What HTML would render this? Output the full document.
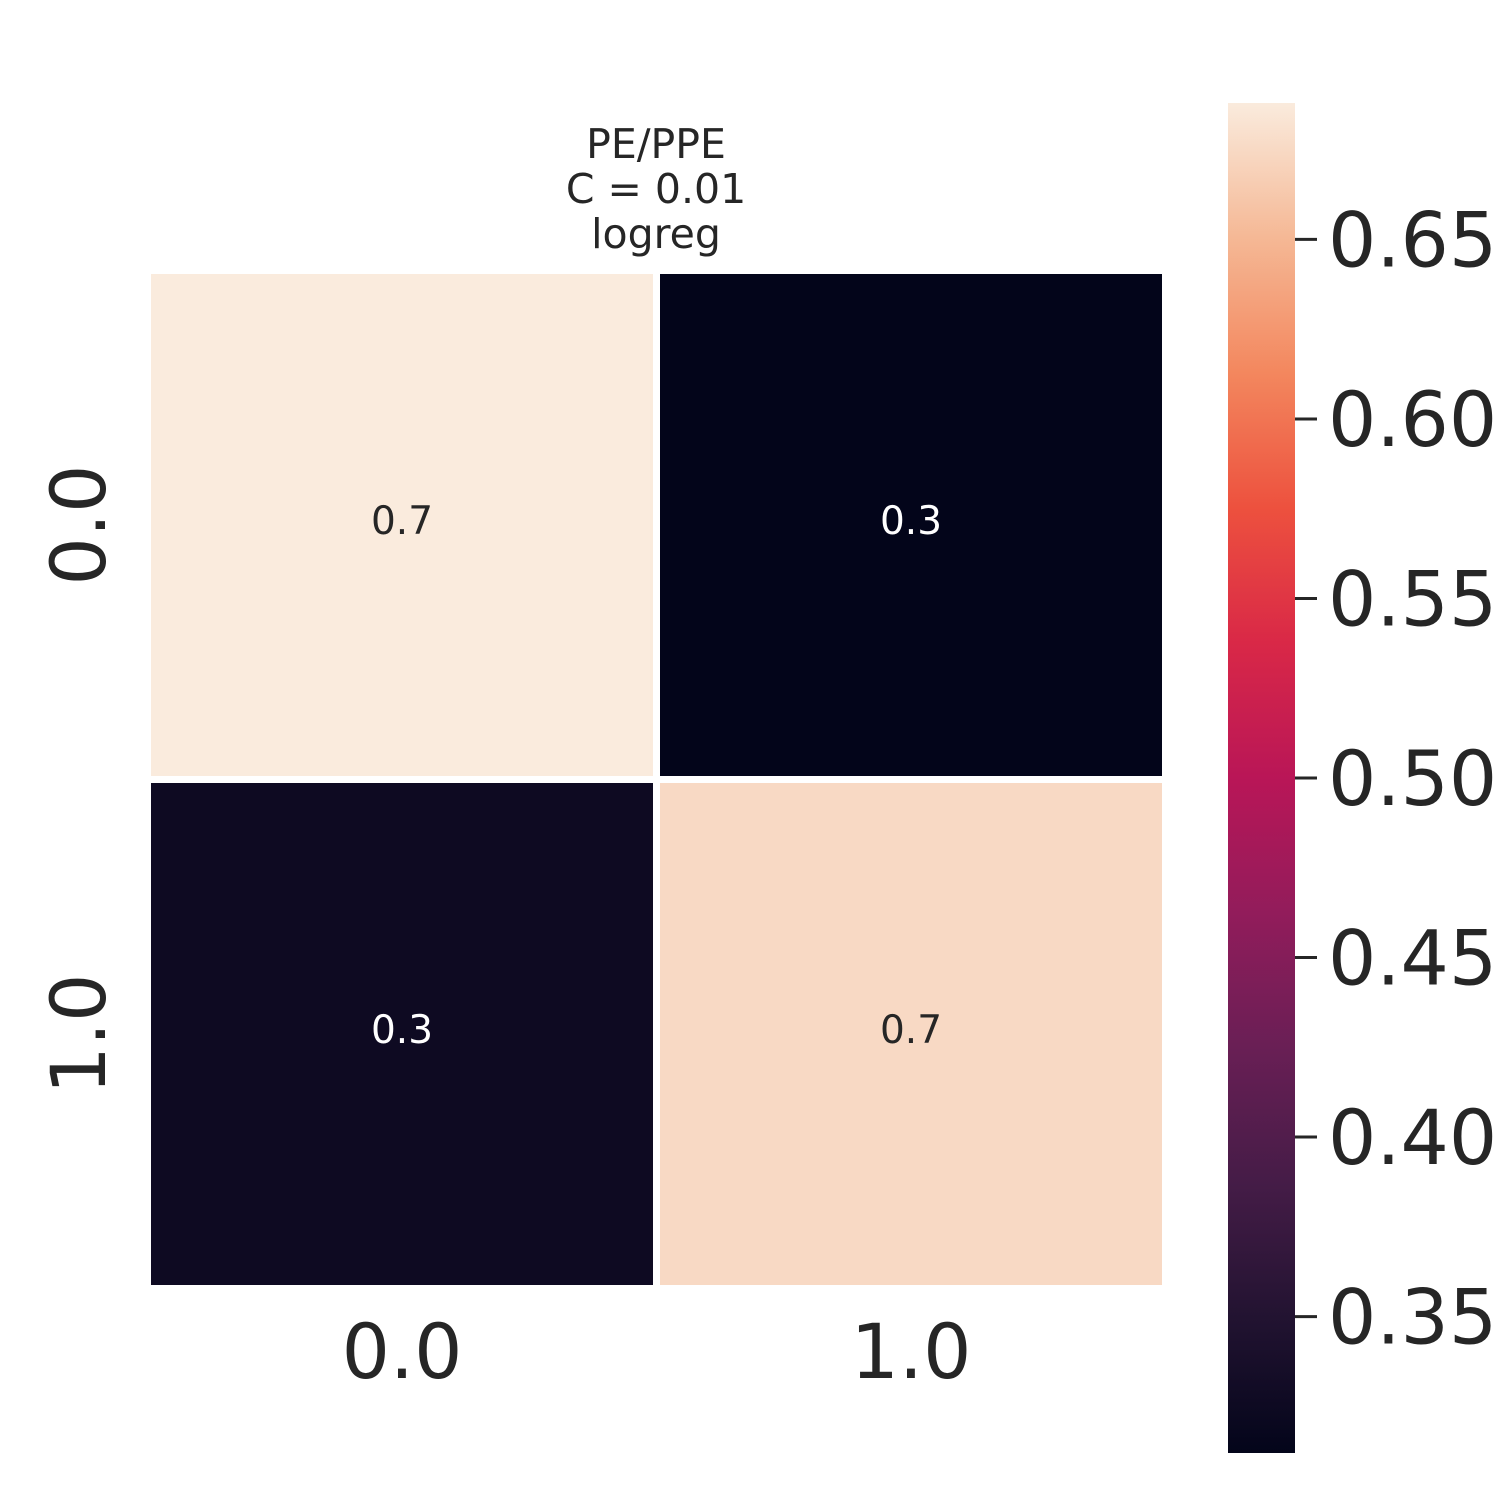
<!DOCTYPE html>
<html><head><meta charset="utf-8"><style>
html,body{margin:0;padding:0;background:#fff;}
svg{display:block;font-family:"DejaVu Sans","Liberation Sans",sans-serif;}
</style></head><body>
<svg id="chart" width="1500" height="1500" viewBox="0 0 1500 1500">
<defs><linearGradient id="rocket" x1="0" y1="1" x2="0" y2="0">
<stop offset="0" stop-color="#03051a"/><stop offset="0.1" stop-color="#221331"/><stop offset="0.2" stop-color="#451c47"/><stop offset="0.3" stop-color="#691f55"/><stop offset="0.4" stop-color="#921c5b"/><stop offset="0.5" stop-color="#b91657"/><stop offset="0.6" stop-color="#d92847"/><stop offset="0.7" stop-color="#ed513e"/><stop offset="0.8" stop-color="#f3875e"/><stop offset="0.9" stop-color="#f5b895"/><stop offset="1" stop-color="#faebdd"/>
</linearGradient></defs>
<g fill="#262626" font-size="41" text-anchor="middle">
<text x="656" y="158">PE/PPE</text><text x="656" y="203">C = 0.01</text><text x="656" y="248">logreg</text></g>
<g id="cells"></g><g id="xt"></g><g id="yt"></g>
<rect x="1228" y="103" width="67" height="1350" fill="url(#rocket)"/>
<g id="cb"></g>
</svg>
<script>
const xLabels=["0.0","1.0"];
const yLabels=["0.0","1.0"];
const row0=[0.688,0.312];
const row1=[0.325,0.675];
const cbTicks=[0.35,0.40,0.45,0.50,0.55,0.60,0.65];
const values=[row0,row1];
const vmin=0.312,vmax=0.688;
const stops=[[0,"#03051a"],[0.1,"#221331"],[0.2,"#451c47"],[0.3,"#691f55"],[0.4,"#921c5b"],[0.5,"#b91657"],[0.6,"#d92847"],[0.7,"#ed513e"],[0.8,"#f3875e"],[0.9,"#f5b895"],[1,"#faebdd"]];
function hex(h){return [1,3,5].map(i=>parseInt(h.substr(i,2),16));}
function cmap(t){t=Math.max(0,Math.min(1,t));for(let i=1;i<stops.length;i++){if(t<=stops[i][0]){const a=hex(stops[i-1][1]),b=hex(stops[i][1]);const f=(t-stops[i-1][0])/(stops[i][0]-stops[i-1][0]);return "rgb("+a.map((v,k)=>Math.round(v+(b[k]-v)*f)).join(",")+")";}}return stops[stops.length-1][1];}
const x0=151,y0=274,step=509,size=502;
const xs=j=>x0+j*step, ys=i=>y0+i*step;
const NS="http://www.w3.org/2000/svg";
function mk(tag,attrs,parent){const e=document.createElementNS(NS,tag);for(const k in attrs)e.setAttribute(k,attrs[k]);document.getElementById(parent).appendChild(e);return e;}
values.forEach((row,i)=>row.forEach((v,j)=>{
const t=(v-vmin)/(vmax-vmin);
const r=mk("rect",{x:xs(j),y:ys(i),width:size,height:size,fill:cmap(t)},"cells");


const tx=mk("text",{x:xs(j)+size/2,y:ys(i)+260,"font-size":"39","text-anchor":"middle",fill:t>0.5?"#262626":"#ffffff"},"cells");


tx.textContent=v.toFixed(1);
}));
xLabels.forEach((l,j)=>{const t=mk("text",{x:xs(j)+size/2,y:1378,"font-size":"76","text-anchor":"middle",fill:"#262626"},"xt");


t.textContent=l;});
yLabels.forEach((l,i)=>{const cy=ys(i)+size/2;const t=mk("text",{x:0,y:0,transform:"translate(105,"+cy+") rotate(-90)","font-size":"76","text-anchor":"middle",fill:"#262626"},"yt");


t.textContent=l;});
const cbY=v=>1453-(v-vmin)/(vmax-vmin)*1350;
cbTicks.forEach(v=>{const y=cbY(v);
const ln=mk("line",{x1:1295,x2:1317,y1:y,y2:y,stroke:"#262626","stroke-width":"3"},"cb");


const t=mk("text",{x:1328,y:y+27,"font-size":"76",fill:"#262626"},"cb");


t.textContent=v.toFixed(2);});
</script>
</body></html>
